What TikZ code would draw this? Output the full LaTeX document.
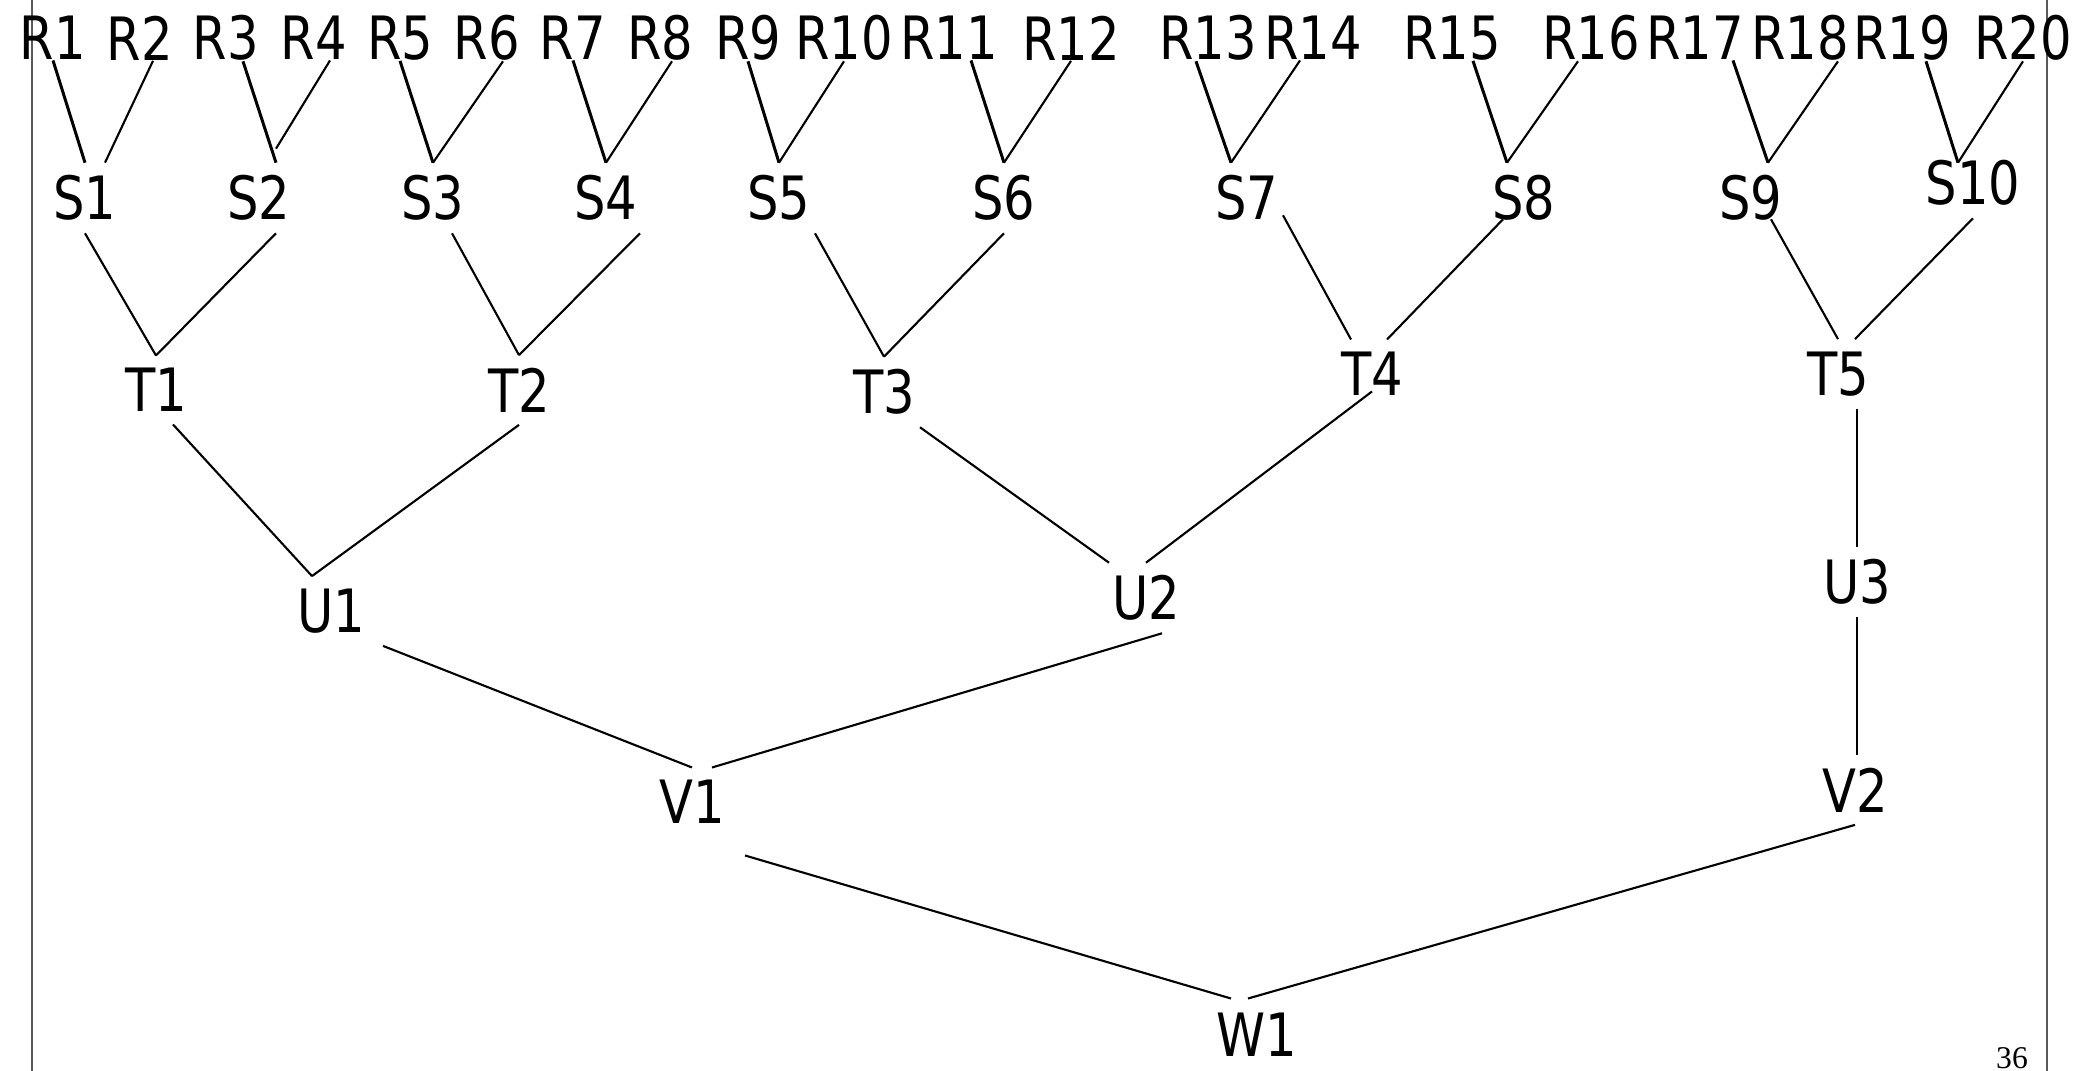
\documentclass[tikz,border=0pt]{standalone}
\usepackage{fontspec}
\setmainfont{DejaVu Sans}[FakeStretch=0.83]
\newfontfamily\pagenumfont{Liberation Serif}
\definecolor{framegray}{RGB}{90,90,90}

\begin{document}
\begin{tikzpicture}[
    lbl/.style={inner sep=1.2mm,font=\fontsize{17}{20}\selectfont},
    leaf/.style={lbl,inner sep=0pt},
    link/.style={line width=0.6pt},
    boldlink/.style={line width=0.85pt},
    sideline/.style={framegray,line width=0.8pt}]

    \useasboundingbox (0,0) rectangle (20.75,10.71);
    \draw[sideline] (0.32,0) -- (0.32,10.71);
    \draw[sideline] (20.47,0) -- (20.47,10.71);

    % top row
    \node[leaf] (R1)  at (0.53,10.33)  {R1};
    \node[leaf] (R2)  at (1.40,10.33)  {R2};
    \node[leaf] (R3)  at (2.26,10.33)  {R3};
    \node[leaf] (R4)  at (3.14,10.33)  {R4};
    \node[leaf] (R5)  at (4.00,10.33)  {R5};
    \node[leaf] (R6)  at (4.87,10.33)  {R6};
    \node[leaf] (R7)  at (5.73,10.33)  {R7};
    \node[leaf] (R8)  at (6.60,10.33)  {R8};
    \node[leaf] (R9)  at (7.48,10.33)  {R9};
    \node[leaf] (R10) at (8.44,10.33)  {R10};
    \node[leaf] (R11) at (9.49,10.33)  {R11};
    \node[leaf] (R12) at (10.71,10.33) {R12};
    \node[leaf] (R13) at (12.08,10.33) {R13};
    \node[leaf] (R14) at (13.13,10.33) {R14};
    \node[leaf] (R15) at (14.52,10.33) {R15};
    \node[leaf] (R16) at (15.91,10.33) {R16};
    \node[leaf] (R17) at (16.95,10.33) {R17};
    \node[leaf] (R18) at (18.00,10.33) {R18};
    \node[leaf] (R19) at (19.02,10.33) {R19};
    \node[leaf] (R20) at (20.23,10.33) {R20};

    \node[lbl] (S1)  at (0.85,8.73)  {S1};
    \node[lbl] (S2)  at (2.59,8.73)  {S2};
    \node[lbl] (S3)  at (4.33,8.73)  {S3};
    \node[lbl] (S4)  at (6.06,8.73)  {S4};
    \node[lbl] (S5)  at (7.79,8.73)  {S5};
    \node[lbl] (S6)  at (10.04,8.73) {S6};
    \node[lbl] (S7)  at (12.47,8.73) {S7};
    \node[lbl] (S8)  at (15.24,8.73) {S8};
    \node[lbl] (S9)  at (17.51,8.73) {S9};
    \node[lbl] (S10) at (19.73,8.88) {S10};

    \node[lbl] (T1) at (1.56,6.81)  {T1};
    \node[lbl] (T2) at (5.19,6.81)  {T2};
    \node[lbl] (T3) at (8.84,6.79)  {T3};
    \node[lbl] (T4) at (13.72,6.97) {T4};
    \node[lbl] (T5) at (18.38,6.97) {T5};

    \node[lbl] (U1) at (3.31,4.60)  {U1};
    \node[lbl] (U2) at (11.46,4.73) {U2};
    \node[lbl] (U3) at (18.57,4.89) {U3};

    \node[lbl] (V1) at (6.92,2.69)  {V1};
    \node[lbl] (V2) at (18.55,2.81) {V2};

    \node[leaf] (W1) at (12.57,0.36) {W1};

    \node[anchor=north,inner sep=0pt,font=\pagenumfont\fontsize{9}{10}\selectfont] (pagenum) at (20.12,0.24) {36};

    % R -> S
    \draw[boldlink] (R1.south) -- (S1.north);
    \draw[link] ([xshift=1.3mm]R2.south) -- ([xshift=2mm]S1.north);
    \draw[boldlink] ([xshift=1.7mm]R3.south) -- ([xshift=1.7mm]S2.north);
    \draw[link] ([xshift=1.6mm]R4.south) -- ([xshift=1.7mm,yshift=1.4mm]S2.north);
    \draw[boldlink] (R5.south) -- (S3.north);
    \draw[link] ([xshift=1.6mm]R6.south) -- (S3.north);
    \draw[boldlink] (R7.south) -- (S4.north);
    \draw[link] ([xshift=1.2mm]R8.south) -- (S4.north);
    \draw[boldlink] (R9.south) -- (S5.north);
    \draw[link] (R10.south) -- (S5.north);
    \draw[boldlink] ([xshift=2.2mm]R11.south) -- (S6.north);
    \draw[link] (R12.south) -- (S6.north);
    \draw[boldlink] ([xshift=-1.2mm]R13.south) -- ([xshift=-1.6mm]S7.north);
    \draw[link] ([xshift=-1.3mm]R14.south) -- ([xshift=-1.6mm]S7.north);
    \draw[boldlink] ([xshift=2.1mm]R15.south) -- ([xshift=-1.7mm]S8.north);
    \draw[link] ([xshift=-1.3mm]R16.south) -- ([xshift=-1.7mm]S8.north);
    \draw[boldlink] ([xshift=3.8mm]R17.south) -- ([xshift=1.7mm]S9.north);
    \draw[link] ([xshift=3.8mm]R18.south) -- ([xshift=1.7mm]S9.north);
    \draw[boldlink] ([xshift=2.4mm]R19.south) -- ([xshift=-1.5mm,yshift=-1.5mm]S10.north);
    \draw[link] (R20.south) -- ([xshift=-1.5mm,yshift=-1.5mm]S10.north);

    % S -> T
    \draw[link] (S1.south) -- (T1.north);
    \draw[link] ([xshift=1.7mm]S2.south) -- (T1.north);
    \draw[link] ([xshift=1.9mm]S3.south) -- (T2.north);
    \draw[link] ([xshift=3.4mm]S4.south) -- (T2.north);
    \draw[link] ([xshift=3.6mm]S5.south) -- (T3.north);
    \draw[link] (S6.south) -- (T3.north);
    \draw[link] ([xshift=3.6mm,yshift=1.8mm]S7.south) -- ([xshift=-2.1mm]T4.north);
    \draw[link] ([xshift=-2.1mm,yshift=1.4mm]S8.south) -- ([xshift=1.5mm]T4.north);
    \draw[link] ([xshift=2mm,yshift=1.4mm]S9.south) -- (T5.north);
    \draw[link] (S10.south) -- ([xshift=1.7mm]T5.north);

    % T -> U
    \draw[link] ([xshift=1.7mm]T1.south) -- ([xshift=-1.9mm]U1.north);
    \draw[link] (T2.south) -- ([xshift=-1.9mm]U1.north);
    \draw[link] ([xshift=3.6mm]T3.south) -- ([xshift=-3.7mm]U2.north);
    \draw[link] ([yshift=1.7mm]T4.south) -- (U2.north);
    \draw[link] (T5.south -| U3.north) -- (U3.north);

    % U -> V
    \draw[link] ([xshift=5.2mm]U1.south) -- (V1.north);
    \draw[link] ([xshift=1.6mm]U2.south) -- ([xshift=2mm]V1.north);
    \draw[link] (U3.south) -- (U3.south |- V2.north);

    % V -> W
    \draw[link] ([xshift=5.3mm,yshift=-1.9mm]V1.south) -- ([xshift=-2.6mm,yshift=1.4mm]W1.north);
    \draw[link] (V2.south) -- ([xshift=-0.9mm,yshift=1.4mm]W1.north);
\end{tikzpicture}
\end{document}
